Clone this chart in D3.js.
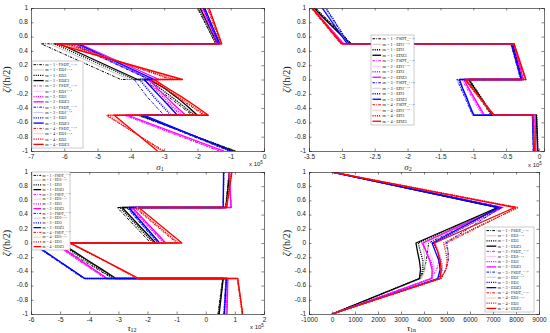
<!DOCTYPE html>
<html><head><meta charset="utf-8">
<script src="https://cdn.jsdelivr.net/npm/d3@7"></script>
<style>body{margin:0;background:#fff}svg{display:block}</style></head>
<body><svg id="c" width="550" height="333"></svg>
<script>
// through-thickness coordinate grid (duplicated at interfaces)
const zGrid=[-1,-0.5,-0.5,-0.375,-0.25,-0.125,0,0,0.5,0.5,1];
const mValues=[1,2,3,4];
const theories=["FSDT","ED1","ED3","EDZ3"];
const theorySup=["v+1,2","v+1,2","",""];
const theorySub=["zz","","",""];

// sigma_1 (x 10^5)
const sigma1=[
[-0.85,-3.8,-2.15,-2.5,-2.85,-3.25,-3.65,-4.3,-6.7,-1.45,-2.0],
[-0.9,-3.75,-2.05,-2.4,-2.75,-3.1,-3.5,-4.05,-6.45,-1.42,-1.95],
[-0.88,-3.75,-2.1,-2.42,-2.76,-3.12,-3.5,-3.9,-6.3,-1.45,-1.98],
[-0.92,-3.7,-2.0,-2.3,-2.62,-2.98,-3.45,-3.8,-6.15,-1.4,-1.92],
[-1.35,-4.2,-2.5,-2.8,-3.1,-3.35,-3.6,-3.45,-5.8,-1.4,-1.88],
[-1.25,-4.05,-2.4,-2.7,-2.98,-3.25,-3.5,-3.25,-5.6,-1.37,-1.84],
[-1.3,-4.15,-2.45,-2.75,-3.02,-3.28,-3.52,-3.3,-5.65,-1.39,-1.86],
[-1.2,-4.1,-2.35,-2.65,-2.93,-3.2,-3.45,-3.15,-5.55,-1.36,-1.83],
[-1.05,-3.7,-3.0,-3.25,-3.5,-3.7,-3.9,-3.45,-5.75,-1.37,-1.82],
[-1.0,-3.6,-2.75,-3.0,-3.25,-3.48,-3.7,-3.35,-5.62,-1.34,-1.79],
[-1.02,-3.65,-2.8,-3.05,-3.3,-3.52,-3.75,-3.4,-5.68,-1.36,-1.81],
[-0.98,-3.6,-2.6,-2.85,-3.1,-3.35,-3.6,-3.3,-5.6,-1.33,-1.78],
[-3.0,-4.75,-1.8,-2.2,-2.6,-3.0,-3.4,-2.8,-5.9,-1.3,-1.7],
[-3.1,-4.6,-1.7,-2.1,-2.5,-2.9,-3.3,-2.6,-6.05,-1.27,-1.66],
[-3.05,-4.7,-1.75,-2.15,-2.55,-2.95,-3.35,-2.7,-6.0,-1.29,-1.68],
[-3.2,-4.5,-1.67,-2.05,-2.45,-2.88,-3.3,-2.45,-6.25,-1.27,-1.65]];

// sigma_2 (x 10^5)
const sigma2=[
[-0.02,-0.04,-0.73,-0.82,-0.91,-1.0,-1.09,-0.26,-0.41,-2.85,-3.4],
[-0.02,-0.05,-0.72,-0.81,-0.9,-0.99,-1.08,-0.25,-0.4,-2.87,-3.42],
[-0.015,-0.035,-0.7,-0.79,-0.88,-0.97,-1.06,-0.25,-0.4,-2.86,-3.41],
[-0.02,-0.04,-0.71,-0.8,-0.89,-0.98,-1.07,-0.25,-0.4,-2.88,-3.43],
[-0.05,-0.07,-0.86,-0.94,-1.02,-1.1,-1.17,-0.25,-0.39,-2.98,-3.46],
[-0.05,-0.06,-0.85,-0.93,-1.0,-1.08,-1.16,-0.24,-0.38,-2.96,-3.44],
[-0.05,-0.06,-0.84,-0.92,-1.0,-1.07,-1.15,-0.24,-0.38,-2.97,-3.45],
[-0.05,-0.06,-0.83,-0.91,-0.99,-1.07,-1.14,-0.24,-0.38,-2.98,-3.45],
[-0.09,-0.1,-1.01,-1.07,-1.13,-1.19,-1.25,-0.28,-0.43,-2.9,-3.25],
[-0.08,-0.1,-1.0,-1.06,-1.12,-1.17,-1.23,-0.27,-0.42,-2.91,-3.28],
[-0.08,-0.1,-1.0,-1.06,-1.11,-1.17,-1.22,-0.27,-0.42,-2.89,-3.24],
[-0.08,-0.1,-0.99,-1.05,-1.1,-1.16,-1.21,-0.27,-0.42,-2.92,-3.3],
[-0.07,-0.09,-0.7,-0.81,-0.92,-1.03,-1.13,-0.21,-0.39,-3.02,-3.47],
[-0.07,-0.09,-0.69,-0.8,-0.91,-1.02,-1.12,-0.2,-0.38,-3.0,-3.45],
[-0.07,-0.09,-0.69,-0.8,-0.91,-1.02,-1.12,-0.2,-0.38,-3.01,-3.46],
[-0.07,-0.09,-0.68,-0.79,-0.9,-1.01,-1.12,-0.2,-0.38,-3.0,-3.45]];

// tau_12 (x 10^5)
const tau12=[
[0.42,0.58,-3.2,-3.7,-4.2,-4.7,-5.2,-1.89,-3.04,0.68,0.8],
[0.45,0.6,-3.1,-3.58,-4.06,-4.54,-5.0,-1.78,-2.92,0.7,0.82],
[0.44,0.59,-3.15,-3.63,-4.1,-4.58,-5.05,-1.8,-2.95,0.69,0.81],
[0.46,0.6,-3.08,-3.55,-4.03,-4.5,-4.98,-1.72,-2.87,0.7,0.82],
[0.7,0.74,-3.45,-3.9,-4.35,-4.8,-5.25,-1.45,-2.6,0.88,0.81],
[0.72,0.75,-3.4,-3.85,-4.3,-4.75,-5.2,-1.4,-2.55,0.87,0.8],
[0.71,0.75,-3.42,-3.87,-4.32,-4.77,-5.22,-1.42,-2.56,0.87,0.8],
[0.73,0.76,-3.38,-3.83,-4.28,-4.73,-5.18,-1.37,-2.52,0.87,0.8],
[0.62,0.69,-4.2,-4.65,-5.1,-5.55,-6.0,-1.65,-2.72,0.6,0.62],
[0.63,0.7,-4.15,-4.6,-5.05,-5.5,-5.95,-1.6,-2.66,0.61,0.62],
[0.63,0.7,-4.17,-4.62,-5.07,-5.52,-5.97,-1.62,-2.68,0.6,0.62],
[0.64,0.71,-4.15,-4.6,-5.05,-5.5,-5.95,-1.58,-2.64,0.6,0.61],
[1.25,1.08,-2.35,-2.93,-3.5,-4.1,-4.7,-1.0,-2.45,0.7,0.88],
[1.27,1.1,-2.32,-2.9,-3.48,-4.07,-4.65,-0.9,-2.38,0.71,0.89],
[1.26,1.09,-2.33,-2.91,-3.49,-4.08,-4.67,-0.95,-2.4,0.71,0.88],
[1.27,1.1,-2.3,-2.88,-3.46,-4.05,-4.65,-0.82,-2.3,0.72,0.9]];

// tau_1n
const tau1n=[
[0,3850,3850,4000,4100,4150,4200,4200,7250,7250,0],
[0,3900,3900,4050,4050,4000,3950,3950,7200,7200,0],
[0,3800,3800,3950,3950,3850,3750,3750,7250,7250,0],
[0,3800,3800,3850,3800,3720,3650,3650,7200,7200,0],
[0,4300,4300,4550,4650,4600,4450,4450,7450,7450,0],
[0,4350,4350,4450,4400,4250,4100,4100,7350,7350,0],
[0,4300,4300,4400,4300,4100,3900,3900,7400,7400,0],
[0,4350,4350,4350,4250,4100,3950,3950,7350,7350,0],
[0,4700,4700,4950,5050,5050,4950,4950,7350,7350,0],
[0,4600,4600,4750,4750,4650,4500,4500,7300,7300,0],
[0,4650,4650,4800,4750,4600,4400,4400,7350,7350,0],
[0,4600,4600,4700,4650,4500,4350,4350,7250,7250,0],
[0,4750,4750,4950,5050,5050,5000,5000,8050,8050,0],
[0,4700,4700,4800,4750,4650,4500,4500,7900,7900,0],
[0,4750,4750,4950,5000,4950,4850,4850,8100,8100,0],
[0,4700,4700,4750,4700,4600,4450,4450,7950,7950,0]];

const xTicks1=[-7,-6,-5,-4,-3,-2,-1,0];
const xTicks2=[-3.5,-3,-2.5,-2,-1.5,-1,-0.5,0];
const xTicks3=[-6,-5,-4,-3,-2,-1,0,1,2];
const xTicks4=[-1000,0,1000,2000,3000,4000,5000,6000,7000,8000,9000];
const yTicks=[-1,-0.8,-0.6,-0.4,-0.2,0,0.2,0.4,0.6,0.8,1];

const mainColors=["#000000","#ff00ff","#0000ff","#ff0000"];
const lightColors=["#b4b4b4","#f7b8f7","#b8b8ff","#ffb0b0"];

function style(si){
  const m=Math.floor(si/4), t=si%4;
  if(t===0) return {c:mainColors[m],w:1.0,d:"2.6,1.2,0.8,1.2"};
  if(t===1) return {c:lightColors[m],w:0.8,d:null};
  if(t===2) return {c:mainColors[m],w:1.3,d:"1.1,1.1"};
  return {c:mainColors[m],w:1.3,d:null};
}

const panels=[
 {data:sigma1,x0:31,x1:264,y0:8,y1:151,dom:[-7,0],ticks:xTicks1,lab:"σ",sub:"1",labX:160,labY:169.5,exp:[249,166],leg:[32,61,83,148],yl:10},
 {data:sigma2,x0:309,x1:544,y0:8,y1:151,dom:[-3.5,0.076],ticks:xTicks2,lab:"σ",sub:"2",labX:408,labY:169.5,exp:[528,167],leg:[371,35,414,125],yl:290},
 {data:tau12,x0:31,x1:264,y0:172,y1:314,dom:[-6,2],ticks:xTicks3,lab:"τ",sub:"12",labX:132,labY:331,exp:[250,329],leg:[32,172,70,250],yl:10},
 {data:tau1n,x0:309,x1:539,y0:172,y1:314,dom:[-1000,9000],ticks:xTicks4,lab:"τ",sub:"1n",labX:411.5,labY:331,exp:null,leg:[485,227,534,312],yl:290}
];

const svg=d3.select("#c");
panels.forEach((p,pi)=>{
  const w=p.x1-p.x0,h=p.y1-p.y0;
  const x=d3.scaleLinear().domain(p.dom).range([0,w]);
  const y=d3.scaleLinear().domain([-1,1]).range([h,0]);
  const g=svg.append("g").attr("transform",`translate(${p.x0},${p.y0})`);
  g.append("rect").attr("width",w).attr("height",h).attr("fill","#fff");
  svg.append("clipPath").attr("id","clip"+pi).append("rect").attr("width",w).attr("height",h);
  const lines=g.append("g").attr("clip-path",`url(#clip${pi})`);
  const line=d3.line().x(d=>x(d[0])).y(d=>y(d[1]));
  p.data.forEach((row,si)=>{
    const s=style(si);
    const pts=row.map((v,i)=>[v,zGrid[i]]);
    lines.append("path").attr("d",line(pts)).attr("fill","none")
      .attr("stroke",s.c).attr("stroke-width",s.w)
      .attr("stroke-dasharray",s.d).attr("stroke-linejoin","round");
  });
  const fs="6.5px";
  g.append("g").attr("transform",`translate(0,${h})`)
    .call(d3.axisBottom(x).tickValues(p.ticks).tickSize(-2.5).tickPadding(3).tickFormat(d=>d));
  g.append("g").call(d3.axisTop(x).tickValues(p.ticks).tickSize(-2.5).tickFormat(""));
  const ay=g.append("g").call(d3.axisLeft(y).tickValues(yTicks).tickSize(-2.5).tickPadding(3).tickFormat(d=>d));
  ay.selectAll(".tick text").attr("dy","0.2em");
  g.append("g").attr("transform",`translate(${w},0)`).call(d3.axisRight(y).tickValues(yTicks).tickSize(-2.5).tickFormat(""));
  g.selectAll(".domain").attr("stroke","#333").attr("stroke-width",0.7);
  g.selectAll(".tick line").attr("stroke","#333").attr("stroke-width",0.6);
  g.selectAll(".tick text").attr("font-family","Liberation Sans, Arial, sans-serif").attr("font-size",fs).attr("fill","#222");
  const t=svg.append("text").attr("x",p.labX).attr("y",p.labY).attr("text-anchor","middle")
    .attr("font-family","Liberation Serif, serif").attr("font-style","italic").attr("font-size","9px").attr("fill","#111");
  t.append("tspan").text(p.lab);
  t.append("tspan").attr("font-size","6px").attr("dy",1.3).attr("font-style","normal").text(p.sub);
  svg.append("text").attr("transform",`translate(${p.yl},${(p.y0+p.y1)/2}) rotate(-90)`)
    .attr("text-anchor","middle").attr("font-family","Liberation Serif, serif").attr("font-size","10px").attr("fill","#111")
    .html('<tspan font-style="italic">ζ</tspan>/(h/2)');
  if(p.exp){
    const e=svg.append("text").attr("x",p.exp[0]).attr("y",p.exp[1]).attr("font-family","Liberation Sans, Arial, sans-serif").attr("font-size","6px").attr("fill","#222");
    e.append("tspan").text("x 10");
    e.append("tspan").attr("dy",-2.5).attr("font-size","4.5px").text("5");
  }
  // legend
  const [lx0,ly0,lx1,ly1]=p.leg;
  const lg=svg.append("g");
  lg.append("rect").attr("x",lx0).attr("y",ly0).attr("width",lx1-lx0).attr("height",ly1-ly0)
    .attr("fill","#fff").attr("stroke","#999").attr("stroke-width",0.5);
  const rh=(ly1-ly0-2)/16;
  const lw=lx1-lx0;
  const sampleL=lw*0.2;
  const fsz=Math.min(rh*0.8,4.3);
  p.data.forEach((row,si)=>{
    const s=style(si);
    const yy=ly0+1+rh*(si+0.5);
    lg.append("line").attr("x1",lx0+1.5).attr("x2",lx0+1.5+sampleL).attr("y1",yy).attr("y2",yy)
      .attr("stroke",s.c).attr("stroke-width",s.w).attr("stroke-dasharray",s.d);
    const m=mValues[Math.floor(si/4)], ti=si%4;
    const tx=lg.append("text").attr("x",lx0+3+sampleL).attr("y",yy+fsz*0.35)
      .attr("font-family","Liberation Serif, serif").attr("font-size",fsz+"px").attr("fill","#111");
    tx.append("tspan").text(`m = ${m} - ${theories[ti]}`);
    if(theorySub[ti]) tx.append("tspan").attr("dy",fsz*0.25).attr("font-size",(fsz*0.55)+"px").text(theorySub[ti]);
    if(theorySup[ti]) tx.append("tspan").attr("dy",theorySub[ti]?-fsz*0.6:-fsz*0.35).attr("font-size",(fsz*0.55)+"px").text(theorySup[ti]);
  });
});
</script></body></html>
